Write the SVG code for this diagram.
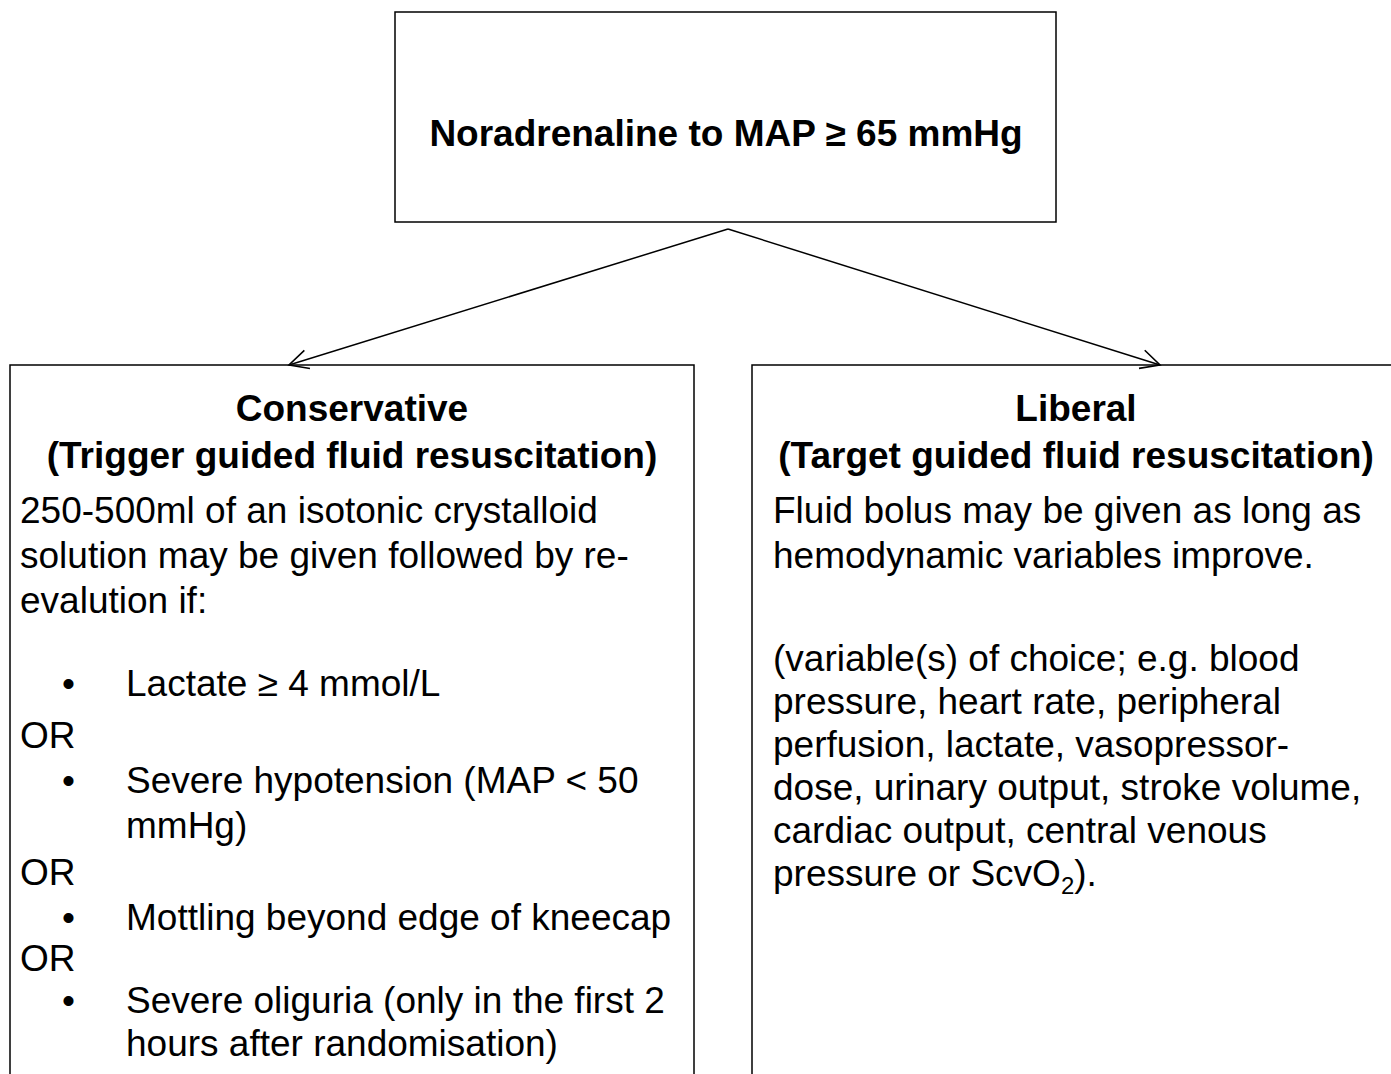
<svg xmlns="http://www.w3.org/2000/svg" width="1391" height="1074" viewBox="0 0 1391 1074">
<style>
  .box { fill: #ffffff; stroke: #000000; stroke-width: 1.5; }
  .conn { fill: none; stroke: #000000; stroke-width: 1.5; }
  text { font-family: "Liberation Sans", Arial, sans-serif; font-size: 37px; fill: #000000; }
  .b { font-weight: bold; }
  .c { text-anchor: middle; }
</style>
<defs>
  <marker id="arr" viewBox="0 0 24 24" refX="21" refY="12" markerWidth="24" markerHeight="24" markerUnits="userSpaceOnUse" orient="auto" overflow="visible">
    <path d="M2,2.5 L21,12 L2,21.5" fill="none" stroke="#000000" stroke-width="1.6"/>
  </marker>
</defs>
<rect width="1391" height="1074" fill="#ffffff"/>

<g id="node-top">
  <rect class="box" x="395" y="12" width="661" height="210"/>
  <text class="b c" x="726" y="146">Noradrenaline to MAP ≥ 65 mmHg</text>
</g>

<g id="node-conservative">
  <rect class="box" x="10" y="365" width="684" height="740"/>
  <text class="b c" x="352" y="421">Conservative</text>
  <text class="b c" x="352" y="468">(Trigger guided fluid resuscitation)</text>
  <text x="20" y="523">250-500ml of an isotonic crystalloid</text>
  <text x="20" y="568">solution may be given followed by re-</text>
  <text x="20" y="613">evalution if:</text>
  <text x="62" y="696">•</text>
  <text x="126" y="696">Lactate ≥ 4 mmol/L</text>
  <text x="20" y="748">OR</text>
  <text x="62" y="793">•</text>
  <text x="126" y="793">Severe hypotension (MAP &lt; 50</text>
  <text x="126" y="838">mmHg)</text>
  <text x="20" y="885">OR</text>
  <text x="62" y="930">•</text>
  <text x="126" y="930">Mottling beyond edge of kneecap</text>
  <text x="20" y="971">OR</text>
  <text x="62" y="1013">•</text>
  <text x="126" y="1013">Severe oliguria (only in the first 2</text>
  <text x="126" y="1056">hours after randomisation)</text>
</g>

<g id="node-liberal">
  <rect class="box" x="752" y="365" width="700" height="740"/>
  <text class="b c" x="1076" y="421">Liberal</text>
  <text class="b c" x="1076" y="468">(Target guided fluid resuscitation)</text>
  <text x="773" y="523">Fluid bolus may be given as long as</text>
  <text x="773" y="568">hemodynamic variables improve.</text>
  <text x="773" y="671">(variable(s) of choice; e.g. blood</text>
  <text x="773" y="714">pressure, heart rate, peripheral</text>
  <text x="773" y="757">perfusion, lactate, vasopressor-</text>
  <text x="773" y="800">dose, urinary output, stroke volume,</text>
  <text x="773" y="843">cardiac output, central venous</text>
  <text x="773" y="886">pressure or ScvO<tspan font-size="24" dy="8">2</tspan><tspan dy="-8">).</tspan></text>
</g>

<g id="connectors">
  <line class="conn" x1="728" y1="229" x2="289" y2="365" marker-end="url(#arr)"/>
  <line class="conn" x1="728" y1="229" x2="1160" y2="365" marker-end="url(#arr)"/>
</g>
</svg>
